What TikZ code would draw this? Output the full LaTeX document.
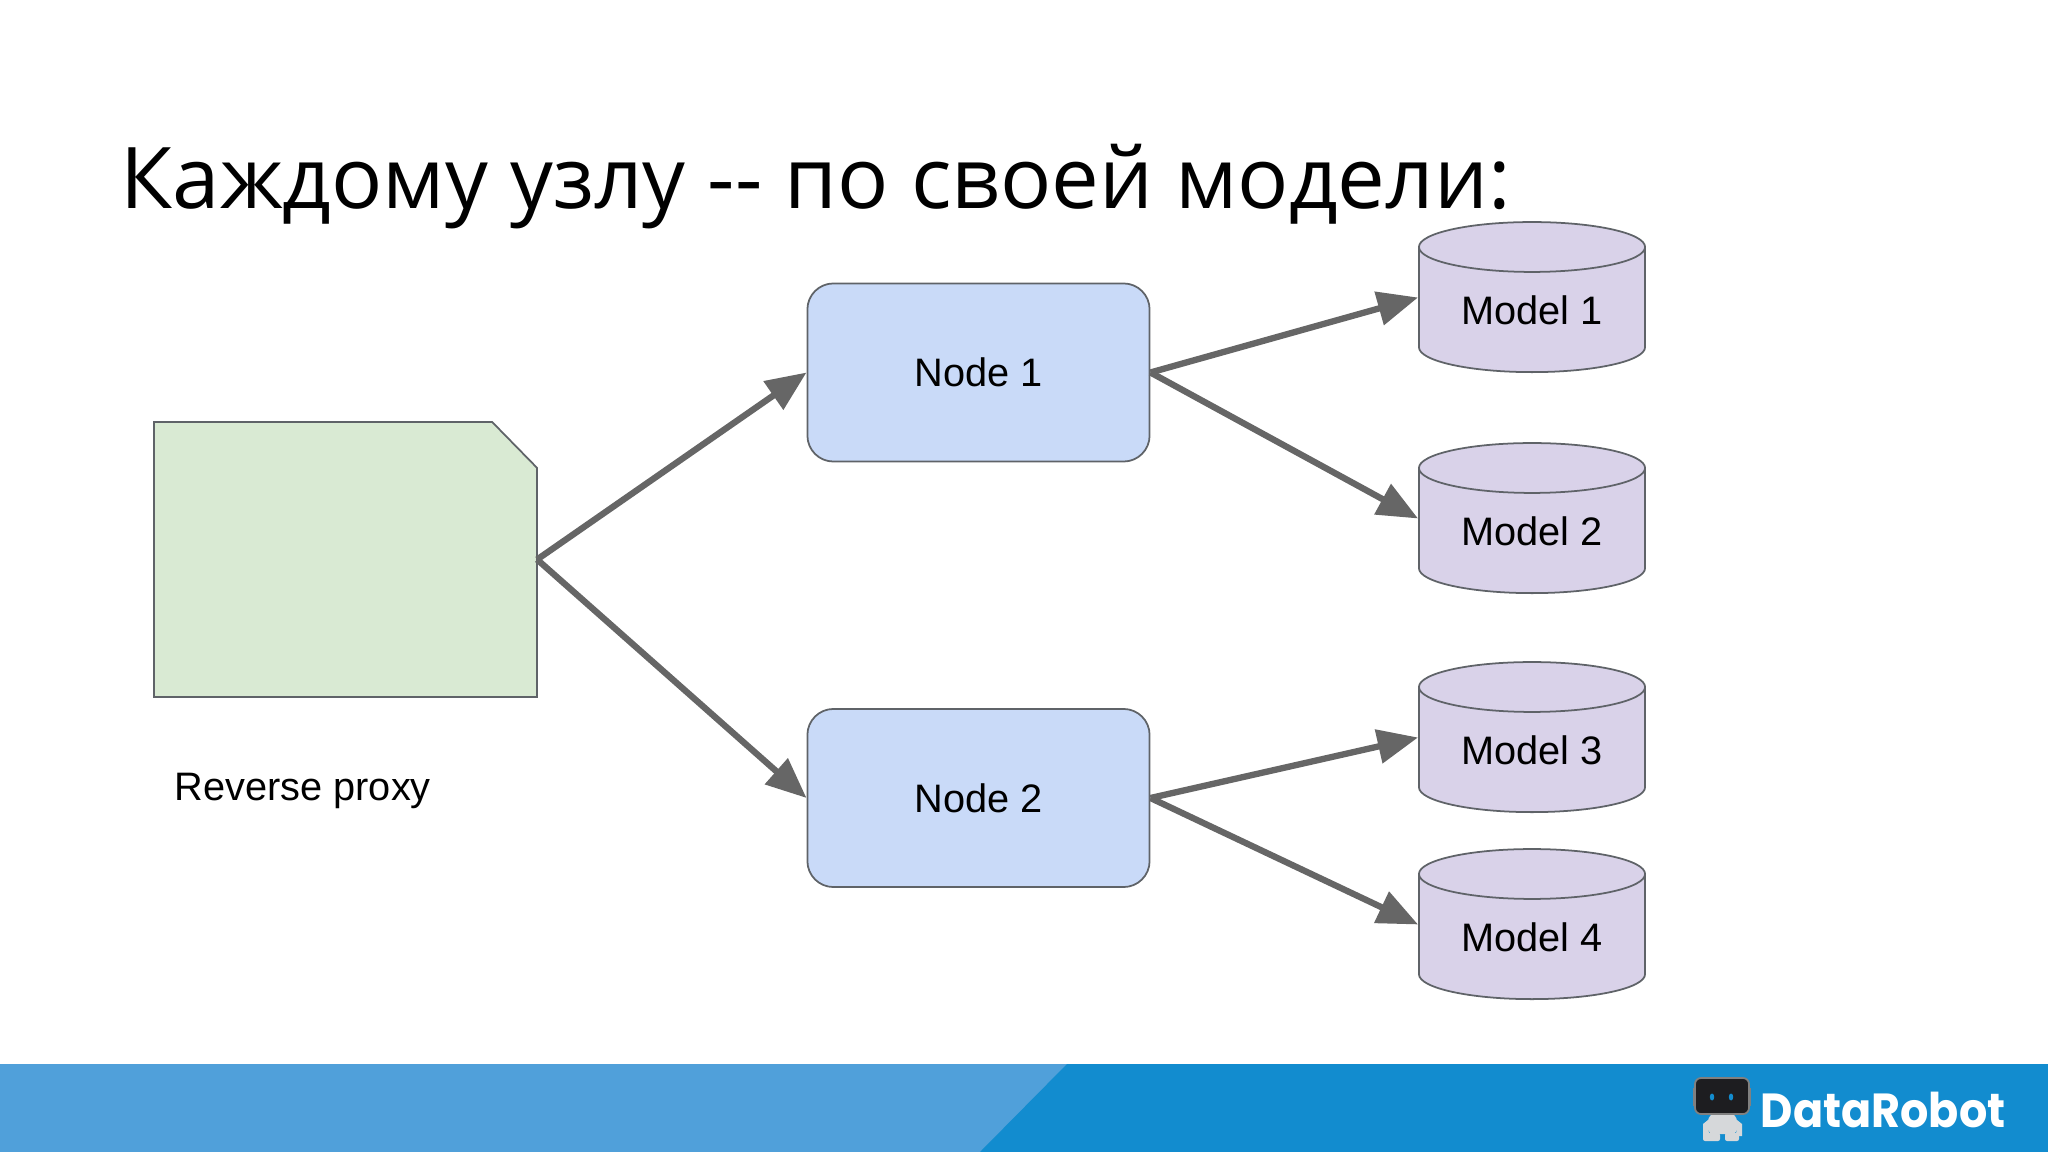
\documentclass[tikz,border=0pt]{standalone}
\usepackage{fontspec}
\setmainfont{Liberation Sans}
\newfontfamily\titlefont{Open Sans}
\newfontfamily\logofont{Poppins}
\usetikzlibrary{arrows.meta, shapes.geometric}

\definecolor{proxyfill}{HTML}{D9EAD3}
\definecolor{nodefill}{HTML}{C9DAF8}
\definecolor{modelfill}{HTML}{D9D2E9}
\definecolor{edgegray}{HTML}{5F6368}
\definecolor{arrowgray}{HTML}{666666}
\definecolor{barlight}{HTML}{50A0DA}
\definecolor{bardark}{HTML}{128CCF}
\definecolor{robothead}{HTML}{1D1D20}
\definecolor{robotbody}{HTML}{D6D8DA}

\tikzset{
	label text/.style={font=\fontsize{11.3}{13}\selectfont, text=black},
	proxybox/.style={rectangle, minimum width=3.83cm, minimum height=2.75cm, inner sep=0pt, outer sep=0pt},
	proxyline/.style={draw=edgegray, line width=.5pt, fill=proxyfill},
	nodebox/.style={rectangle, rounded corners=.26cm, draw=edgegray, line width=.5pt, fill=nodefill, minimum width=3.42cm, minimum height=1.78cm, label text},
	modeldisk/.style={cylinder, shape border rotate=90, aspect=.353, draw=edgegray, line width=.5pt, fill=modelfill, minimum width=2.26cm, minimum height=1.5cm, inner sep=0pt, label text},
	conn/.style={-{Triangle[length=11.5pt,width=9.5pt]}, color=arrowgray, line width=1.8pt},
	disk in/.style={yshift=.125cm}
}

\begin{document}
\begin{tikzpicture}[x=.01cm, y=-.01cm]
	\useasboundingbox (0,0) rectangle (2048,1152);

	\fill[barlight] (0,1064) rectangle (2048,1152);
	\fill[bardark] (1067,1064) -- (2048,1064) -- (2048,1152) -- (980,1152) -- cycle;

	\node[anchor=base west, inner sep=0pt, font=\titlefont\fontsize{24.2}{30}\selectfont] (title) at (120,209) {Каждому узлу -{}- по своей модели:};

	\node[proxybox] (proxy) at (345.5,559.5) {};
	\draw[proxyline] (proxy.south west) -- (proxy.north west) -- ([xshift=-.45cm]proxy.north east) -- ([yshift=-.46cm]proxy.north east) -- (proxy.south east) -- cycle;
	\node[label text, anchor=west, inner sep=0pt] (proxylabel) at (174,791) {Reverse proxy};

	\node[nodebox] (node1) at (978.5,372.5) {Node 1};
	\node[nodebox] (node2) at (978.5,798) {Node 2};

	\node[modeldisk] (model1) at (1532,310) {Model 1};
	\node[modeldisk] (model2) at (1532,531) {Model 2};
	\node[modeldisk] (model3) at (1532,750) {Model 3};
	\node[modeldisk] (model4) at (1532,937) {Model 4};

	\path (proxy.east) edge[conn] (node1.west)
	(proxy.east) edge[conn] (node2.west)
	(node1.east) edge[conn] ([disk in]model1.west)
	(node1.east) edge[conn] ([disk in]model2.west)
	(node2.east) edge[conn] ([disk in]model3.west)
	(node2.east) edge[conn] ([disk in]model4.west)
	;

	\node[anchor=base west, inner sep=0pt, text=white, font=\logofont\bfseries\fontsize{13.6}{16}\selectfont] (logo) at (1760,1127) {\scalebox{.93}[1]{DataRobot}};

	% robot
	\fill[robotbody, rounded corners=.04cm] (1710,1114) -- (1735,1114) -- (1738,1124) -- (1736,1134) -- (1709,1134) -- (1707,1124) -- cycle;
	\fill[robotbody] (1703,1124) -- (1708,1120) -- (1709,1136) -- (1703,1136) -- cycle;
	\fill[robotbody] (1742,1124) -- (1737,1120) -- (1736,1136) -- (1742,1136) -- cycle;
	\fill[robotbody, rounded corners=.02cm] (1703,1133) rectangle (1720,1141);
	\fill[robotbody, rounded corners=.02cm] (1725,1133) rectangle (1739,1141);
	\fill[gray] (1693,1088) rectangle (1697,1106);
	\fill[gray] (1747,1088) rectangle (1751,1106);
	\draw[draw=gray, fill=robothead, line width=.5pt, rounded corners=.06cm] (1695,1078) rectangle (1749,1114);
	\fill[bardark] (1712,1097) ellipse [x radius=2.2, y radius=3.5];
	\fill[bardark] (1731,1097) ellipse [x radius=2.2, y radius=3.5];
\end{tikzpicture}
\end{document}
